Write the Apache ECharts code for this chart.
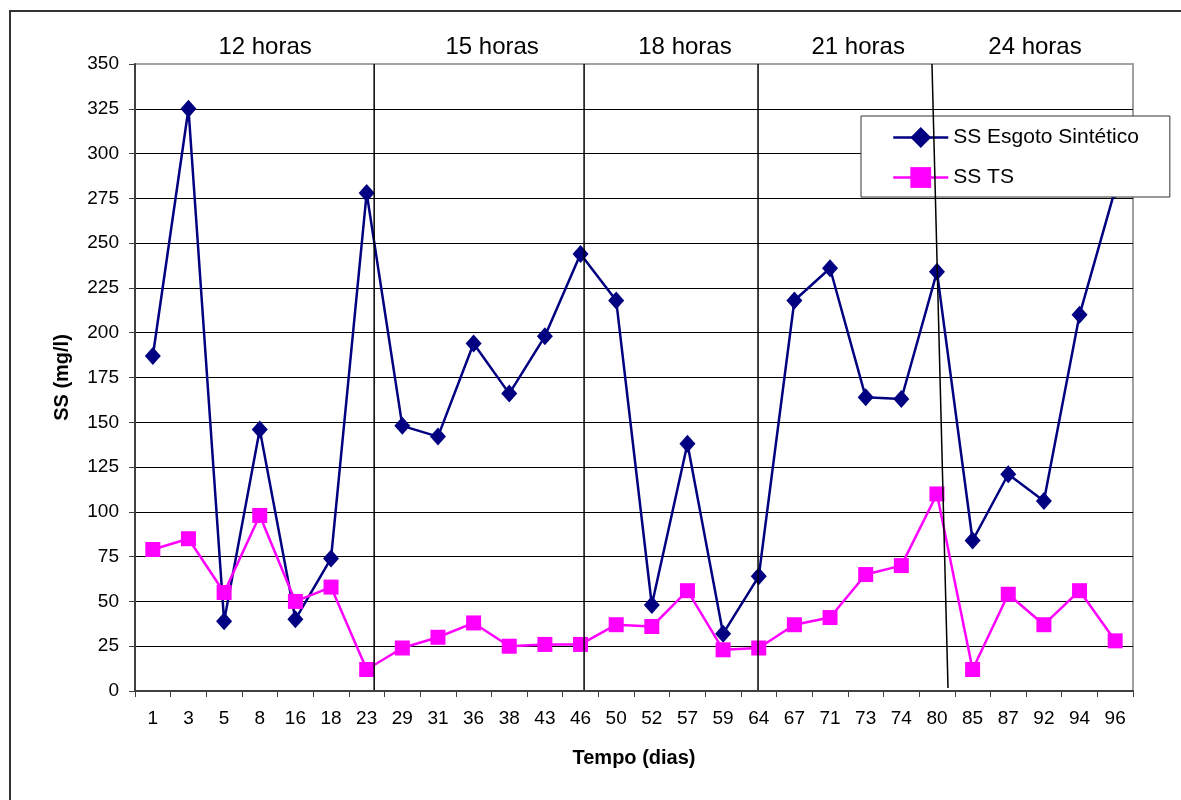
<!doctype html>
<html>
<head>
    <meta charset="utf-8">
    <title>SS - Esgoto Sintético x TS</title>
    <script src="https://cdn.jsdelivr.net/npm/echarts@6/dist/echarts.min.js"></script>
    <style>
        body { margin: 0; background: #fff; }
    </style>
</head>
<body>

    <div id="main" style="width:1181px;height:800px;"></div>

    <script type="text/javascript">
        var days = ['1', '3', '5', '8', '16', '18', '23', '29', '31', '36', '38', '43', '46', '50',
                    '52', '57', '59', '64', '67', '71', '73', '74', '80', '85', '87', '92', '94', '96'];

        var ssEsgoto = [187, 325, 39, 146, 40, 74, 278, 148, 142, 194, 166, 198, 244, 218,
                        48, 138, 32, 64, 218, 236, 164, 163, 234, 84, 121, 106, 210, 280];

        var ssTS = [79, 85, 55, 98, 50, 58, 12, 24, 30, 38, 25, 26, 26, 37,
                    36, 56, 23, 24, 37, 41, 65, 70, 110, 12, 54, 37, 56, 28];

        // phase separators, in category-index units: [x top, x bottom, y bottom]
        var phaseBreaks = [
            [6.21, 6.21, 0.5],
            [12.1, 12.1, 0.5],
            [16.98, 16.98, 0.5],
            [21.86, 22.31, 1.7]
        ];
        var phaseNames = ['12 horas', '15 horas', '18 horas', '21 horas', '24 horas'];
        var phaseCenters = [3.15, 9.52, 14.93, 19.79, 24.75];

        var font = 'Liberation Sans, Arial, sans-serif';
        var chart = echarts.init(document.getElementById('main'));

        var option = {
            animation: false,
            backgroundColor: '#fff',
            textStyle: {fontFamily: font},
            grid: {
                left: 135, right: 48, top: 64, bottom: 109,
                show: true,
                borderColor: '#a0a0a0',
                borderWidth: 2
            },
            legend: {
                orient: 'vertical',
                left: 861,
                top: 116,
                padding: [11, 31, 9, 31],
                itemGap: 19,
                itemWidth: 55,
                itemHeight: 26,
                backgroundColor: '#fff',
                borderColor: '#333',
                borderWidth: 1,
                lineStyle: {width: 2.5},
                textStyle: {fontSize: 21, color: '#000', fontFamily: font},
                data: ['SS Esgoto Sintético', 'SS TS']
            },
            xAxis: {
                type: 'category',
                data: days,
                name: 'Tempo (dias)',
                nameLocation: 'middle',
                nameGap: 57,
                nameTextStyle: {fontSize: 20, fontWeight: 'bold', color: '#000'},
                axisLine: {lineStyle: {color: '#404040', width: 2}},
                axisTick: {show: true, length: 6, interval: 0, lineStyle: {color: '#404040'}},
                axisLabel: {interval: 0, fontSize: 19, color: '#000', margin: 18},
                splitLine: {show: false}
            },
            yAxis: {
                type: 'value',
                min: 0,
                max: 350,
                interval: 25,
                name: 'SS (mg/l)',
                nameLocation: 'middle',
                nameGap: 63,
                nameTextStyle: {fontSize: 20, fontWeight: 'bold', color: '#000'},
                axisLine: {show: true, lineStyle: {color: '#404040', width: 2}},
                axisTick: {show: true, length: 6, lineStyle: {color: '#404040'}},
                axisLabel: {fontSize: 19, color: '#000', margin: 16},
                splitLine: {show: true, showMaxLine: false, lineStyle: {color: '#000', width: 1}}
            },
            series: [{
                name: 'SS Esgoto Sintético',
                type: 'line',
                data: ssEsgoto,
                symbol: 'diamond',
                symbolSize: [16, 18],
                color: '#000080',
                lineStyle: {color: '#000080', width: 2.5},
                itemStyle: {color: '#000080'}
            }, {
                name: 'SS TS',
                type: 'line',
                data: ssTS,
                symbol: 'rect',
                symbolSize: 15,
                color: '#ff00ff',
                lineStyle: {color: '#ff00ff', width: 2.5},
                itemStyle: {color: '#ff00ff'}
            }]
        };

        chart.setOption(option);

        // category axis snaps to whole indices, so interpolate fractional positions
        function toPixel(idx, val) {
            var a = chart.convertToPixel({gridIndex: 0}, [0, val]);
            var b = chart.convertToPixel({gridIndex: 0}, [1, val]);
            return [a[0] + idx * (b[0] - a[0]), a[1]];
        }

        var graphics = [];
        phaseNames.forEach(function (name, i) {
            var p = toPixel(phaseCenters[i], 350);
            graphics.push({
                type: 'text',
                x: p[0],
                y: 47,
                style: {
                    text: name,
                    fontSize: 24,
                    fontFamily: font,
                    fill: '#000',
                    align: 'center',
                    verticalAlign: 'middle'
                }
            });
        });
        phaseBreaks.forEach(function (b) {
            var top = toPixel(b[0], 350);
            var bot = toPixel(b[1], b[2]);
            graphics.push({
                type: 'line',
                z: 100,
                silent: true,
                shape: {x1: top[0], y1: top[1], x2: bot[0], y2: bot[1]},
                style: {stroke: '#000', lineWidth: 1.5}
            });
        });
        graphics.push({
            type: 'rect',
            shape: {x: 10, y: 11, width: 1300, height: 900},
            style: {fill: 'none', stroke: '#333', lineWidth: 2}
        });
        chart.setOption({graphic: graphics});
    </script>
</body>
</html>
